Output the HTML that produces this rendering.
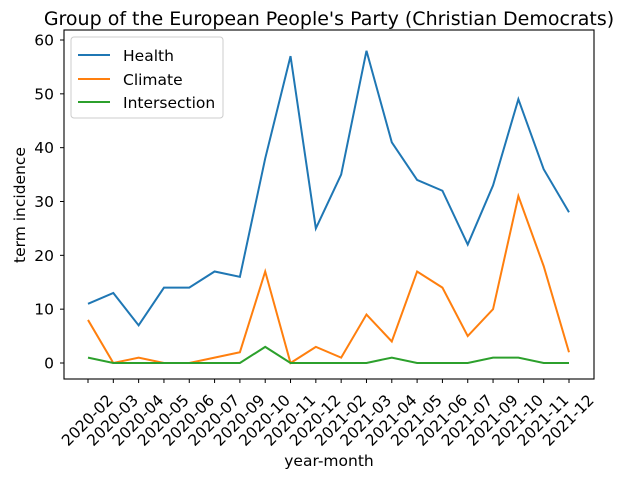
<!DOCTYPE html>
<html><head><meta charset="utf-8"><style>
body{margin:0;background:#fff;font-family:"DejaVu Sans","Liberation Sans",sans-serif;}
</style></head><body>
<svg id="chart" width="624" height="480" xmlns="http://www.w3.org/2000/svg" font-family="DejaVu Sans, Liberation Sans, sans-serif">
<text x="329" y="25" font-size="19" text-anchor="middle">Group of the European People's Party (Christian Democrats)</text>
<rect x="64" y="30" width="530" height="349" fill="none" stroke="#000" stroke-width="1.1"/>
<g id="axes"></g>
<g id="series"></g>
<text x="329" y="466" font-size="15.5" text-anchor="middle">year-month</text>
<text transform="translate(25,205) rotate(-90)" font-size="15.5" text-anchor="middle">term incidence</text>
<g>
<rect x="71" y="37" width="152" height="81" rx="3" fill="#fff" stroke="#ccc"/>
<line x1="78" y1="55" x2="110" y2="55" stroke="#1f77b4" stroke-width="2"/>
<text x="123" y="61" font-size="15.5">Health</text>
<line x1="78" y1="79" x2="110" y2="79" stroke="#ff7f0e" stroke-width="2"/>
<text x="123" y="85" font-size="15.5">Climate</text>
<line x1="78" y1="102" x2="110" y2="102" stroke="#2ca02c" stroke-width="2"/>
<text x="123" y="108" font-size="15.5">Intersection</text>
</g>
</svg>
<script>
const categories=["2020-02","2020-03","2020-04","2020-05","2020-06","2020-07","2020-09","2020-10","2020-11","2020-12","2021-02","2021-03","2021-04","2021-05","2021-06","2021-07","2021-09","2021-10","2021-11","2021-12"];
const health=[11,13,7,14,14,17,16,38,57,25,35,58,41,34,32,22,33,49,36,28];
const climate=[8,0,1,0,0,1,2,17,0,3,1,9,4,17,14,5,10,31,18,2];
const intersection=[1,0,0,0,0,0,0,3,0,0,0,0,1,0,0,0,1,1,0,0];
const yTicks=[0,10,20,30,40,50,60];
const NS="http://www.w3.org/2000/svg";
function x(i){return 88+i*(569-88)/(categories.length-1);}
function y(v){return 363-v*(363-40)/60;}
const axes=document.getElementById('axes');
yTicks.forEach(t=>{
 const l=document.createElementNS(NS,'line');
 l.setAttribute('x1',60);l.setAttribute('x2',64);l.setAttribute('y1',y(t));l.setAttribute('y2',y(t));l.setAttribute('stroke','#000');
 
 
 axes.appendChild(l);
 const tx=document.createElementNS(NS,'text');
 tx.setAttribute('x',54);tx.setAttribute('y',y(t)+5.5);tx.setAttribute('font-size','15.5');tx.setAttribute('text-anchor','end');
 tx.textContent=t;
 
 
 axes.appendChild(tx);
});
categories.forEach((c,i)=>{
 const l=document.createElementNS(NS,'line');
 l.setAttribute('x1',x(i));l.setAttribute('x2',x(i));l.setAttribute('y1',379);l.setAttribute('y2',383);l.setAttribute('stroke','#000');
 
 
 axes.appendChild(l);
 const tx=document.createElementNS(NS,'text');
 tx.setAttribute('font-size','15.5');tx.setAttribute('text-anchor','middle');
 tx.setAttribute('transform','translate('+(x(i)+3)+',424) rotate(-45)');
 tx.textContent=c;
 
 
 axes.appendChild(tx);
});
const ser=document.getElementById('series');
[[health,'#1f77b4','health-line'],[climate,'#ff7f0e','climate-line'],[intersection,'#2ca02c','intersection-line']].forEach(([d,col,name])=>{
 const p=document.createElementNS(NS,'polyline');
 p.setAttribute('points',d.map((v,i)=>x(i)+','+y(v)).join(' '));
 p.setAttribute('fill','none');p.setAttribute('stroke',col);p.setAttribute('stroke-width','2');
 
 
 ser.appendChild(p);
});
</script>
</body></html>
